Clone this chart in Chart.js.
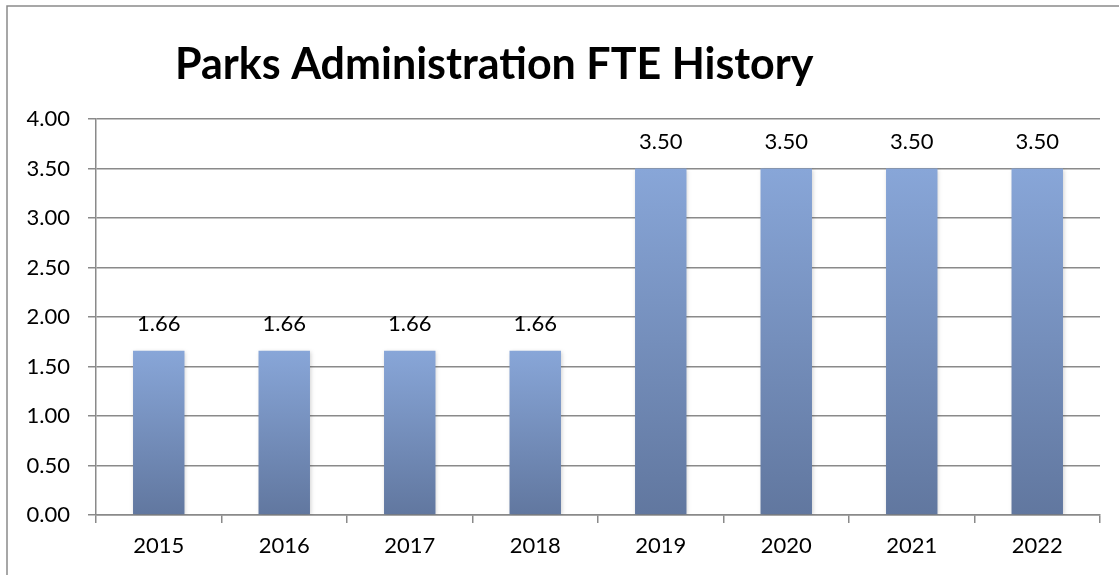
<!DOCTYPE html>
<html>
<head>
<meta charset="utf-8">
<script src="https://cdn.jsdelivr.net/npm/chart.js@4"></script>
<style>
  html, body { margin: 0; padding: 0; background: #fff; overflow: hidden; }
  #wrap { width: 1119px; height: 575px; }
</style>
</head>
<body>
<div id="wrap"><canvas id="fteChart" width="1119" height="575"></canvas></div>
<script>
// Chart data
const chartTitle = 'Parks Administration FTE History';
const years = ['2015', '2016', '2017', '2018', '2019', '2020', '2021', '2022'];
const fteValues = [1.66, 1.66, 1.66, 1.66, 3.50, 3.50, 3.50, 3.50];
const yTicks = [0, 0.5, 1, 1.5, 2, 2.5, 3, 3.5, 4];

const FONT = 'Lato, "Open Sans", sans-serif';
const GRID = '#8a8a8a';

// per-bar gradient, light on top, darker at the base
function barGradient(context) {
    const chart = context.chart;
    if (!chart.chartArea) return '#7f9ccc';
    const y = chart.scales.y;
    const top = y.getPixelForValue(context.raw);
    const base = y.getPixelForValue(0);
    const g = chart.ctx.createLinearGradient(0, top, 0, base);
    g.addColorStop(0, '#88a6d8');
    g.addColorStop(1, '#61779f');
    return g;
}

// frame + title
const framePlugin = {
    id: 'frame',
    beforeDraw(chart) {
        const ctx = chart.ctx;
        ctx.save();
        ctx.strokeStyle = GRID;
        ctx.lineWidth = 1.5;
        ctx.beginPath();
        ctx.moveTo(7, chart.height + 5);
        ctx.lineTo(7, 6);
        ctx.lineTo(chart.width + 5, 6);
        ctx.stroke();

        ctx.fillStyle = '#000';
        ctx.font = 'bold 43px ' + FONT;
        ctx.textAlign = 'left';
        ctx.textBaseline = 'alphabetic';
        ctx.fillText(chartTitle, 175, 79);
        ctx.restore();
    }
};

// soft shadow under the bars
const barShadow = {
    id: 'barShadow',
    beforeDatasetsDraw(chart) {
        const ctx = chart.ctx;
        ctx.save();
        ctx.shadowColor = 'rgba(0,0,0,0.18)';
        ctx.shadowBlur = 4;
        ctx.shadowOffsetX = 1;
        ctx.shadowOffsetY = 1;
    },
    afterDatasetsDraw(chart) {
        chart.ctx.restore();
    }
};

// value labels above bars
const valueLabels = {
    id: 'valueLabels',
    afterDatasetsDraw(chart) {
        const ctx = chart.ctx;
        const meta = chart.getDatasetMeta(0);
        ctx.save();
        ctx.fillStyle = '#000';
        ctx.font = '22px ' + FONT;
        ctx.textAlign = 'center';
        ctx.textBaseline = 'middle';
        meta.data.forEach((bar, i) => {
            ctx.fillText(fteValues[i].toFixed(2), bar.x, bar.y - 27);
        });
        ctx.restore();
    }
};

new Chart(document.getElementById('fteChart').getContext('2d'), {
    type: 'bar',
    data: {
        labels: years,
        datasets: [{
            data: fteValues,
            backgroundColor: barGradient,
            borderWidth: 0,
            barPercentage: 0.41,
            categoryPercentage: 1
        }]
    },
    options: {
        responsive: false,
        animation: false,
        layout: {
            padding: { left: 0, right: 19, top: 119, bottom: 0 }
        },
        plugins: {
            legend: { display: false },
            title: { display: false },
            tooltip: { enabled: false }
        },
        scales: {
            x: {
                grid: {
                    display: true,
                    offset: true,
                    drawOnChartArea: false,
                    tickLength: 8,
                    color: GRID,
                    lineWidth: 1.5
                },
                border: { color: GRID, width: 1.5 },
                ticks: {
                    color: '#000',
                    font: { family: FONT, size: 22 },
                    padding: 10
                },
                afterFit(scale) { scale.height = 60; }
            },
            y: {
                min: 0,
                max: 4,
                afterBuildTicks(scale) {
                    scale.ticks = yTicks.map(v => ({ value: v }));
                },
                grid: {
                    color: GRID,
                    lineWidth: 1.5,
                    tickLength: 8
                },
                border: { color: GRID, width: 1.5 },
                ticks: {
                    color: '#000',
                    font: { family: FONT, size: 22 },
                    padding: 18,
                    callback: v => Number(v).toFixed(2)
                },
                afterFit(scale) { scale.width = 96; }
            }
        }
    },
    plugins: [framePlugin, barShadow, valueLabels]
});
</script>
</body>
</html>
